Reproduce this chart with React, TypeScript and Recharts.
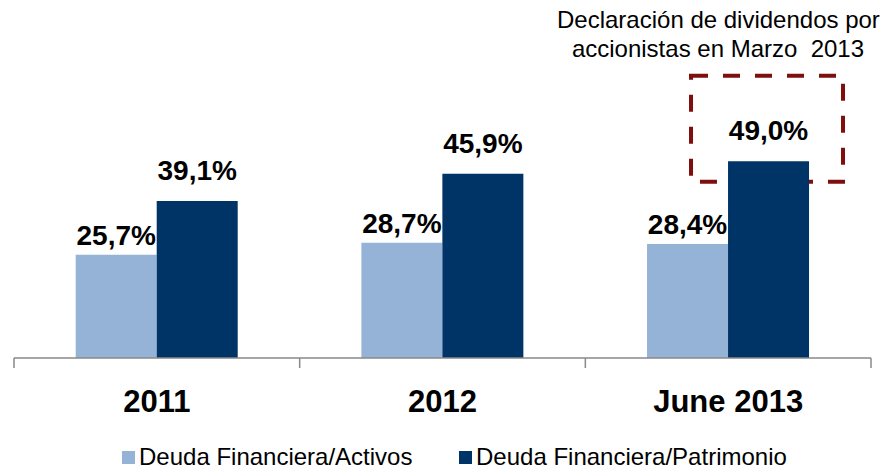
import React from 'react';
import { BarChart, Bar, XAxis, YAxis, LabelList, Legend, ReferenceArea } from 'recharts';

const categories = ['2011', '2012', 'June 2013'];
const activos = [25.7, 28.7, 28.4];
const patrimonio = [39.1, 45.9, 49.0];
const seriesNames = ['Deuda Financiera/Activos', 'Deuda Financiera/Patrimonio'];
const annotationLines = ['Declaración de dividendos por', 'accionistas en Marzo  2013'];
const highlightCategory = 'June 2013';
const highlightRange = [43.9, 70.3];

const data = categories.map((c, i) => ({ name: c, activos: activos[i], patrimonio: patrimonio[i] }));

const W = 883;
const H = 469;
const M = { top: 69, right: 12, left: 14, bottom: 51 };
const BAND = (W - M.left - M.right) / categories.length;
const LIGHT = '#95B3D7';
const DARK = '#003366';
const FONT = '"Liberation Sans", Arial, sans-serif';

const fmt = (v: any) => Number(v).toFixed(1).replace('.', ',') + '%';

const Tick = (props: any) => {
  const { x, y, payload, index } = props;
  const half = BAND / 2;
  return (
    <g>
      <line x1={x - half} y1={y - 8} x2={x - half} y2={y + 2} stroke="#898989" strokeWidth={1.5} />
      {index === categories.length - 1 && (
        <line x1={x + half} y1={y - 8} x2={x + half} y2={y + 2} stroke="#898989" strokeWidth={1.5} />
      )}
      <text x={x} y={y + 46} textAnchor="middle" fontFamily={FONT} fontWeight="bold" fontSize={31} fill="#000">
        {payload.value}
      </text>
    </g>
  );
};

const DashedBox = (props: any) => {
  const { x, y, width, height } = props;
  const cx = x + width * 0.636;
  return (
    <rect x={cx - 76} y={y} width={152} height={height} fill="none" stroke="#7F0F0F" strokeWidth={4} strokeDasharray="17 15" />
  );
};

const LegendContent = () => (
  <div style={{ position: 'relative', width: W, height: 22, fontFamily: FONT, fontSize: 24, lineHeight: '22px', color: '#000' }}>
    {[LIGHT, DARK].map((c, i) => (
      <div key={i} style={{ position: 'absolute', left: i === 0 ? 122 : 459, top: 0, height: 22, display: 'flex', alignItems: 'center', whiteSpace: 'nowrap' }}>
        <span style={{ display: 'inline-block', width: 13, height: 13, background: c, marginRight: 4 }} />
        <span>{seriesNames[i]}</span>
      </div>
    ))}
  </div>
);

export default function App() {
  return (
    <div style={{ position: 'absolute', left: 0, top: 0, width: W, height: H, background: '#fff' }}>
      <BarChart width={W} height={H} data={data} margin={M} barCategoryGap="21.6%" barGap={0}>
        <XAxis dataKey="name" axisLine={{ stroke: '#898989', strokeWidth: 1.5 }} tickLine={false} height={60} tick={<Tick />} interval={0} />
        <YAxis hide domain={[0, 72]} />
        <ReferenceArea x1={highlightCategory} x2={highlightCategory} y1={highlightRange[0]} y2={highlightRange[1]} shape={<DashedBox />} ifOverflow="visible" />
        <Bar dataKey="activos" name={seriesNames[0]} fill={LIGHT} isAnimationActive={false}>
          <LabelList dataKey="activos" position="top" offset={10} formatter={fmt} fontFamily={FONT} fontWeight="bold" fontSize={28} fill="#000" />
        </Bar>
        <Bar dataKey="patrimonio" name={seriesNames[1]} fill={DARK} isAnimationActive={false}>
          <LabelList dataKey="patrimonio" position="top" offset={21} formatter={fmt} fontFamily={FONT} fontWeight="bold" fontSize={28} fill="#000" />
        </Bar>
        <Legend layout="horizontal" verticalAlign="middle" align="center" content={<LegendContent />} wrapperStyle={{ top: 446, left: 0, width: W }} />
      </BarChart>
      <div style={{ position: 'absolute', left: 557, top: 5, width: 322, textAlign: 'center', fontFamily: FONT, fontSize: 24, lineHeight: '29px', color: '#000' }}>
        {annotationLines.map((l, i) => (
          <div key={i} style={{ whiteSpace: 'pre' }}>{l}</div>
        ))}
      </div>
    </div>
  );
}
